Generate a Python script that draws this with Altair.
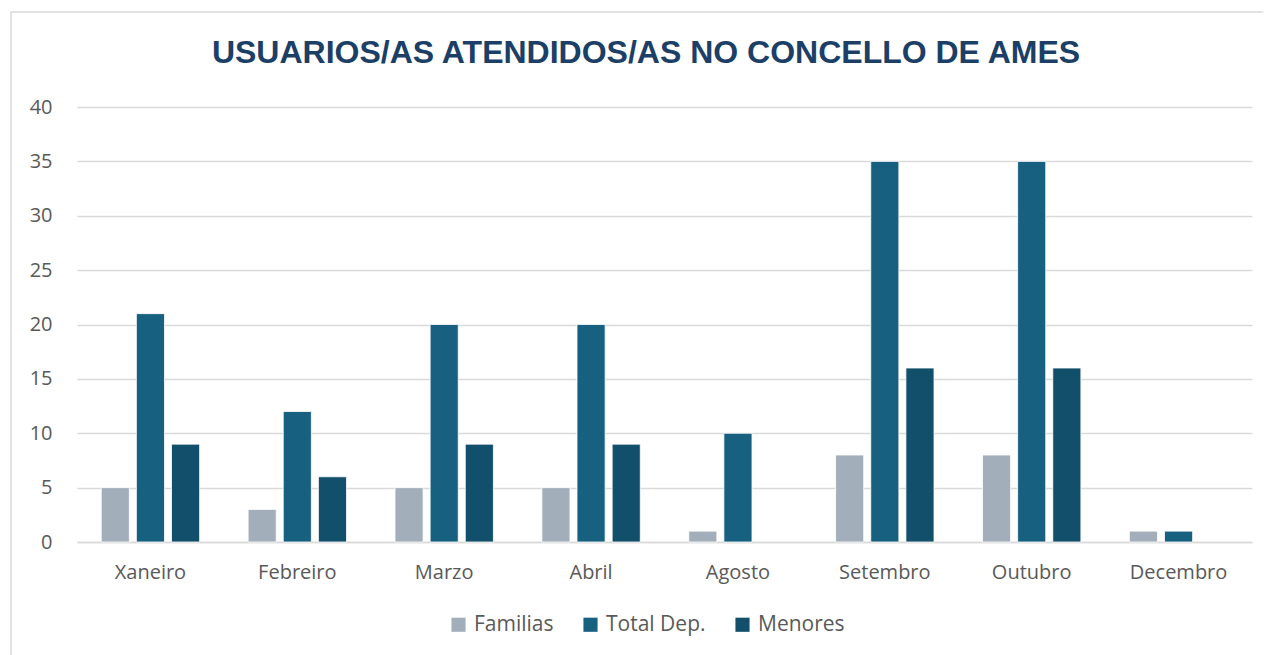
import altair as alt
import pandas as pd

title_text = "USUARIOS/AS ATENDIDOS/AS NO CONCELLO DE AMES"
months = ["Xaneiro", "Febreiro", "Marzo", "Abril", "Agosto", "Setembro", "Outubro", "Decembro"]
series = ["Familias", "Total Dep.", "Menores"]
familias = [5, 3, 5, 5, 1, 8, 8, 1]
total_dep = [21, 12, 20, 20, 10, 35, 35, 1]
menores = [9, 6, 9, 9, 0, 16, 16, 0]
colors = ["#A2AFBA", "#17607F", "#124F6B"]

rows = []
for i, m in enumerate(months):
    for s, vals in zip(series, [familias, total_dep, menores]):
        rows.append({"mes": m, "serie": s, "valor": vals[i]})
df = pd.DataFrame(rows)

font = "Open Sans"
tfont = "Liberation Sans"

bars = alt.Chart(df).mark_bar(stroke="white", strokeWidth=0.8).encode(
    x=alt.X("mes:N", sort=months, title=None,
            scale=alt.Scale(paddingInner=0.33, paddingOuter=0.165),
            axis=alt.Axis(labelAngle=0, labelFontSize=20, labelColor="#595959", labelFont=font,
                          ticks=False, domainColor="#d9d9d9", domainWidth=1.5, labelPadding=20, grid=False)),
    xOffset=alt.XOffset("serie:N", sort=series, scale=alt.Scale(paddingInner=0.2)),
    y=alt.Y("valor:Q", title=None,
            scale=alt.Scale(domain=[0, 40]),
            axis=alt.Axis(values=[0, 5, 10, 15, 20, 25, 30, 35, 40], labelFontSize=20, labelColor="#595959",
                          labelFont=font, ticks=False, domain=False, gridColor="#d9d9d9", gridWidth=1.5,
                          labelPadding=25)),
    color=alt.Color("serie:N", sort=series, scale=alt.Scale(domain=series, range=colors),
                    legend=alt.Legend(title=None, orient="none", legendX=371, legendY=507,
                                      direction="horizontal", symbolType="square", symbolSize=200,
                                      symbolStrokeWidth=0, labelFontSize=21, labelColor="#595959",
                                      labelFont=font, columnPadding=26, labelOffset=5)),
    strokeOpacity=alt.condition("datum.valor > 0", alt.value(1), alt.value(0)),
)

deco = pd.DataFrame({"t": [title_text]})
frame = alt.Chart(deco).mark_rect(fill=None, stroke="#d9d9d9", strokeWidth=1.5).encode(
    x=alt.value(-66), x2=alt.value(1191), y=alt.value(-95), y2=alt.value(570)
)
title = alt.Chart(deco).mark_text(font=tfont, fontSize=32, fontWeight="bold", color="#1B3F66",
                                  align="center", baseline="middle").encode(
    text="t:N", x=alt.value(569), y=alt.value(-54)
)

chart = alt.layer(frame, title, bars).properties(
    width=1175, height=435,
    padding={"left": 69, "top": 99, "right": 11, "bottom": 115},
    autosize=alt.AutoSizeParams(type="none"),
).configure_view(stroke=None)

chart.save("out.html", embed_options={"renderer": "svg", "actions": False})
